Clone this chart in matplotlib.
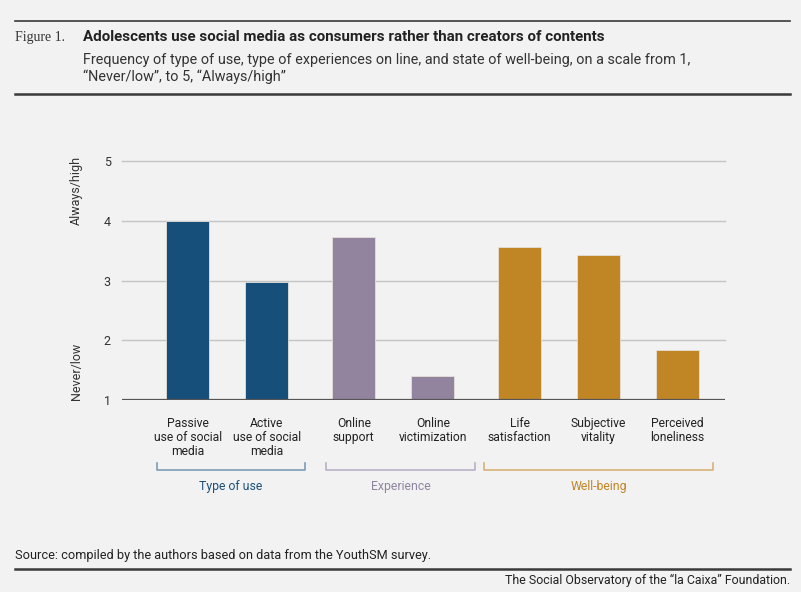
import matplotlib
matplotlib.use('Agg')
import matplotlib.pyplot as plt
import matplotlib.transforms as mtransforms
from matplotlib.lines import Line2D

# data
categories = ['Passive\nuse of social\nmedia', 'Active\nuse of social\nmedia',
              'Online\nsupport', 'Online\nvictimization',
              'Life\nsatisfaction', 'Subjective\nvitality', 'Perceived\nloneliness']
values = [4.0, 2.98, 3.73, 1.40, 3.56, 3.42, 1.84]
groups = ['Type of use', 'Type of use', 'Experience', 'Experience',
          'Well-being', 'Well-being', 'Well-being']
group_names = ['Type of use', 'Experience', 'Well-being']
yticks = [1, 2, 3, 4, 5]

bar_colors = {'Type of use': '#154f7a', 'Experience': '#92849f', 'Well-being': '#c08626'}
bracket_colors = {'Type of use': '#7d9cb6', 'Experience': '#b9b0c4', 'Well-being': '#d9b277'}
label_colors = {'Type of use': '#1d4f78', 'Experience': '#8f849f', 'Well-being': '#c08626'}

plt.rcParams['font.family'] = ['Roboto', 'DejaVu Sans']

W, H = 801, 592
fig = plt.figure(figsize=(W / 100, H / 100), dpi=100, facecolor='#f2f2f2')


def fx(x):
    return x / W


def fy(y):
    return 1 - y / H


# x positions with a small extra gap between groups
xpos = []
x = 0.0
for i, g in enumerate(groups):
    if i > 0 and g != groups[i - 1]:
        x += 0.1
    xpos.append(x)
    x += 1.0

ax = fig.add_axes([fx(122), fy(400), fx(725) - fx(122), fy(161) - fy(400)])
ax.set_facecolor('#f2f2f2')
ax.set_xlim(-0.835, 6.8)
ax.set_ylim(1, 5)

for xi, v, g in zip(xpos, values, groups):
    ax.bar(xi, v - 1, bottom=1, width=0.545, color=bar_colors[g],
           edgecolor='#e6e0d8', linewidth=0.6, zorder=3)

for t in yticks[1:]:
    ax.axhline(t, color='#c4c4c4', linewidth=1.0, zorder=1, clip_on=False)
ax.axhline(1, color='#555555', linewidth=1.6, zorder=4)

for s in ax.spines.values():
    s.set_visible(False)
ax.set_yticks(yticks)
ax.set_yticklabels([str(t) for t in yticks], fontsize=9, color='#333333')
ax.tick_params(axis='y', length=0, pad=8)
ax.set_xticks(xpos)
ax.set_xticklabels(categories, fontsize=8.7, color='#222222', linespacing=1.12)
ax.tick_params(axis='x', length=0, pad=12)

fig.text(fx(76), fy(190), 'Always/high', rotation=90, ha='center', va='center',
         fontsize=9, color='#333333')
fig.text(fx(76), fy(371), 'Never/low', rotation=90, ha='center', va='center',
         fontsize=9, color='#333333')

# group brackets
trans = mtransforms.blended_transform_factory(ax.transData, ax.transAxes)
spans = {'Type of use': (-0.39, 1.48), 'Experience': (1.75, 3.63), 'Well-being': (3.75, 6.65)}
for name in group_names:
    x0, x1 = spans[name]
    ax.plot([x0, x0, x1, x1], [-0.262, -0.293, -0.293, -0.262], transform=trans,
            color=bracket_colors[name], linewidth=1.2, clip_on=False)
    ax.text((x0 + x1) / 2, -0.36, name, transform=trans, ha='center', va='center',
            fontsize=8.8, color=label_colors[name])

# header
fig.add_artist(Line2D([fx(15), fx(790)], [fy(21), fy(21)], color='#3a3a3a', linewidth=1.2))
fig.add_artist(Line2D([fx(15), fx(790)], [fy(93.5), fy(93.5)], color='#3a3a3a', linewidth=1.8))
fig.text(fx(15), fy(37), 'Figure 1.', family=['Liberation Serif', 'DejaVu Serif'],
         fontsize=10, color='#333333', va='center')
fig.text(fx(83), fy(37), 'Adolescents use social media as consumers rather than creators of contents',
         fontsize=10.9, fontweight='bold', color='#222222', va='center')
fig.text(fx(83), fy(60), 'Frequency of type of use, type of experiences on line, and state of well-being, on a scale from 1,',
         fontsize=10.4, color='#333333', va='center')
fig.text(fx(83), fy(77), '\u201cNever/low\u201d, to 5, \u201cAlways/high\u201d',
         fontsize=10.4, color='#333333', va='center')

# footer
fig.text(fx(15), fy(555), 'Source: compiled by the authors based on data from the YouthSM survey.',
         fontsize=9.2, color='#222222', va='center')
fig.add_artist(Line2D([fx(15), fx(790)], [fy(569), fy(569)], color='#3a3a3a', linewidth=1.8))
fig.text(fx(790), fy(580), 'The Social Observatory of the \u201cla Caixa\u201d Foundation.',
         fontsize=8.9, color='#222222', va='center', ha='right')

fig.savefig('out.png', dpi=100, facecolor=fig.get_facecolor())
